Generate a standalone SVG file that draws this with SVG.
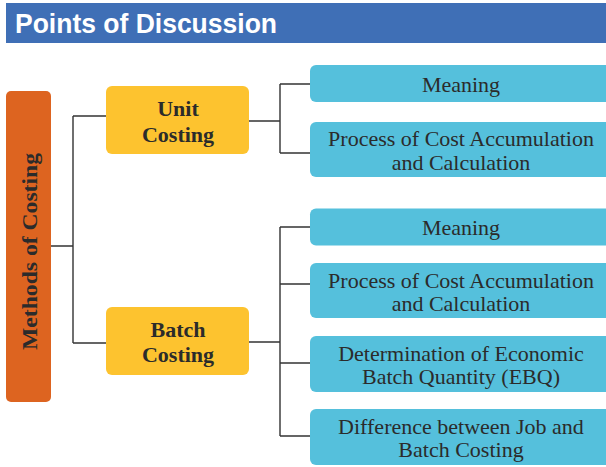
<svg xmlns="http://www.w3.org/2000/svg" width="606" height="467" viewBox="0 0 606 467">
<style>
.hdr{font-family:"Liberation Sans",Arial,sans-serif;font-weight:bold;font-size:28px;fill:#ffffff}
.t{font-family:"Liberation Serif","Times New Roman",serif;font-size:22px;fill:#2b2b2b;text-anchor:middle}
.b{font-family:"Liberation Serif","Times New Roman",serif;font-size:22px;font-weight:bold;fill:#2b2b2b;text-anchor:middle}
.leaf{fill:#55c0dc}
.mid{fill:#fdc32f}
.conn{fill:none;stroke:#333333;stroke-width:1.4}
</style>
<rect x="6" y="3" width="600" height="40" fill="#3f6fb6"/>
<text class="hdr" x="15" y="33" textLength="262" lengthAdjust="spacingAndGlyphs">Points of Discussion</text>
<g id="connectors">
<path class="conn" d="M51 246H73M73 116V343M73 116H106M73 343H106"/>
<path class="conn" d="M249 121H280M280 84V153M280 84H310M280 153H310"/>
<path class="conn" d="M249 342H280M280 227V436M280 227H310M280 284H310M280 363H310M280 436H310"/>
</g>
<g id="methods">
<rect x="6" y="91" width="45" height="311" rx="5" fill="#dd6420"/>
<text class="b" transform="translate(37,251.5) rotate(-90)" x="0" y="0" font-size="23" textLength="197" lengthAdjust="spacingAndGlyphs">Methods of Costing</text>
</g>
<g id="unit">
<rect class="mid" x="106" y="86" width="143" height="68" rx="6"/>
<text class="b" x="178" y="116">Unit</text>
<text class="b" x="178" y="141.5">Costing</text>
</g>
<g id="batch">
<rect class="mid" x="106" y="307" width="143" height="68" rx="6"/>
<text class="b" x="178" y="337">Batch</text>
<text class="b" x="178" y="362">Costing</text>
</g>
<g id="u-meaning">
<rect class="leaf" x="310" y="65" width="302" height="37" rx="6"/>
<text class="t" x="461" y="92">Meaning</text>
</g>
<g id="u-process">
<rect class="leaf" x="310" y="122" width="302" height="55" rx="6"/>
<text class="t" x="461" y="146">Process of Cost Accumulation</text>
<text class="t" x="461" y="170">and Calculation</text>
</g>
<g id="b-meaning">
<rect class="leaf" x="310" y="208.5" width="302" height="37" rx="6"/>
<text class="t" x="461" y="235">Meaning</text>
</g>
<g id="b-process">
<rect class="leaf" x="310" y="263" width="302" height="55" rx="6"/>
<text class="t" x="461" y="287.5">Process of Cost Accumulation</text>
<text class="t" x="461" y="310.5">and Calculation</text>
</g>
<g id="b-ebq">
<rect class="leaf" x="310" y="336" width="302" height="56" rx="6"/>
<text class="t" x="461" y="360.5">Determination of Economic</text>
<text class="t" x="461" y="383.5">Batch Quantity (EBQ)</text>
</g>
<g id="b-diff">
<rect class="leaf" x="310" y="409" width="302" height="56" rx="6"/>
<text class="t" x="461" y="433.5">Difference between Job and</text>
<text class="t" x="461" y="456.5">Batch Costing</text>
</g>
</svg>
